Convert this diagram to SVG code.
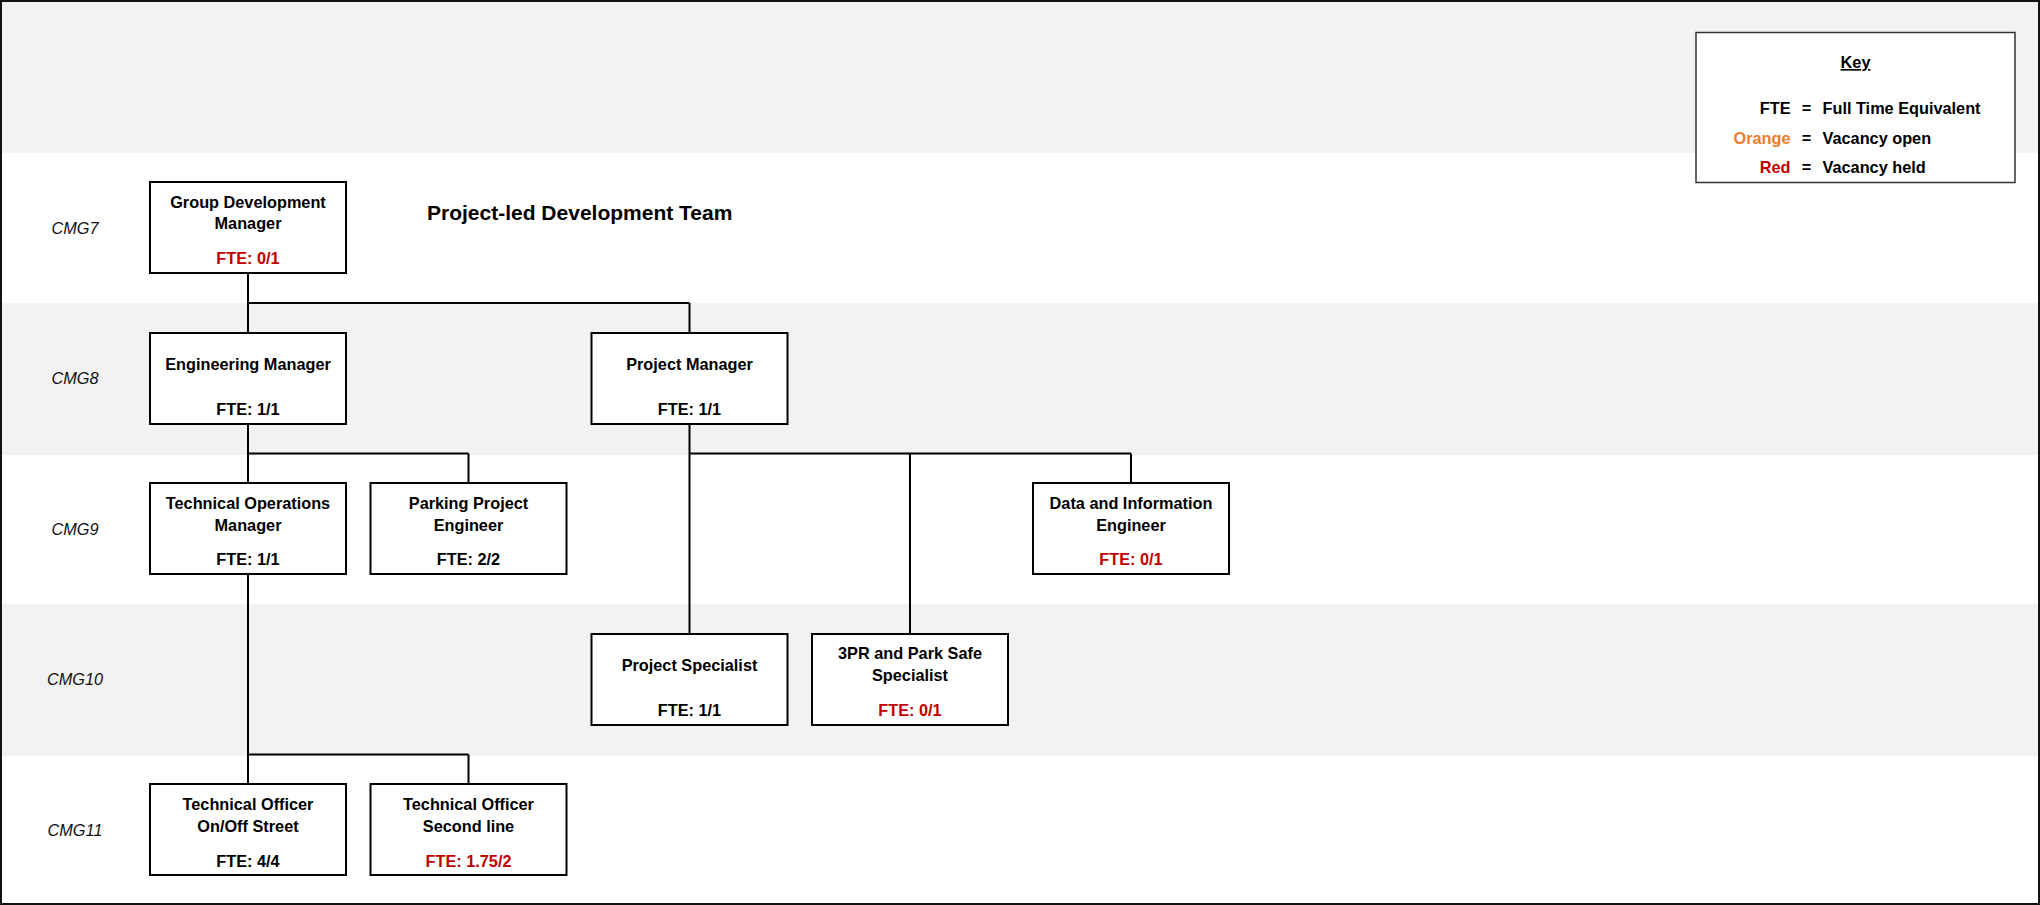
<svg xmlns="http://www.w3.org/2000/svg" width="2040" height="905" viewBox="0 0 2040 905">
<style>
.band{fill:#f2f2f2}
.box{fill:#ffffff;stroke:#000000;stroke-width:2}
.t{font-family:"Liberation Sans",Arial,sans-serif;font-size:16.3px;font-weight:bold;fill:#000;text-anchor:middle}
.lvl{font-family:"Liberation Sans",Arial,sans-serif;font-size:16.3px;font-style:italic;fill:#111;text-anchor:middle}
.title{font-family:"Liberation Sans",Arial,sans-serif;font-size:21px;font-weight:bold;fill:#000}
.conn{fill:none;stroke:#000;stroke-width:2}
.k{font-family:"Liberation Sans",Arial,sans-serif;font-size:16.3px;font-weight:bold;fill:#000}
text.red{fill:#c00000}
text.org{fill:#f07c2c}
</style>
<rect x="0" y="0" width="2040" height="905" fill="#ffffff"/>
<g id="bands">
<rect class="band" x="0" y="0" width="2040" height="153"/>
<rect class="band" x="0" y="303" width="2040" height="152"/>
<rect class="band" x="0" y="604" width="2040" height="152"/>
</g>
<g id="levels">
<text class="lvl" x="75" y="234">CMG7</text>
<text class="lvl" x="75" y="384">CMG8</text>
<text class="lvl" x="75" y="535">CMG9</text>
<text class="lvl" x="75" y="685">CMG10</text>
<text class="lvl" x="75" y="836">CMG11</text>
</g>
<text class="title" x="427" y="220">Project-led Development Team</text>
<g id="connectors">
<path class="conn" d="M248 273 V303 M248 303 H689.5 M248 303 V333 M689.5 303 V333"/>
<path class="conn" d="M248 424 V453.5 M248 453.5 H468.5 M248 453.5 V483 M468.5 453.5 V483"/>
<path class="conn" d="M689.5 424 V453.5 M689.5 453.5 H1131 M689.5 453.5 V634 M910 453.5 V634 M1131 453.5 V483"/>
<path class="conn" d="M248 574 V754.5 M248 754.5 H468.5 M248 754.5 V784 M468.5 754.5 V784"/>
</g>
<g id="group-development-manager">
<rect class="box" x="150" y="182" width="196" height="91"/>
<text class="t" x="248" y="208">Group Development</text>
<text class="t" x="248" y="229">Manager</text>
<text class="t red" x="248" y="264">FTE: 0/1</text>
</g>
<g id="engineering-manager">
<rect class="box" x="150" y="333" width="196" height="91"/>
<text class="t" x="248" y="370">Engineering Manager</text>
<text class="t" x="248" y="415">FTE: 1/1</text>
</g>
<g id="project-manager">
<rect class="box" x="591.5" y="333" width="196" height="91"/>
<text class="t" x="689.5" y="370">Project Manager</text>
<text class="t" x="689.5" y="415">FTE: 1/1</text>
</g>
<g id="technical-operations-manager">
<rect class="box" x="150" y="483" width="196" height="91"/>
<text class="t" x="248" y="509">Technical Operations</text>
<text class="t" x="248" y="530.5">Manager</text>
<text class="t" x="248" y="565">FTE: 1/1</text>
</g>
<g id="parking-project-engineer">
<rect class="box" x="370.5" y="483" width="196" height="91"/>
<text class="t" x="468.5" y="509">Parking Project</text>
<text class="t" x="468.5" y="530.5">Engineer</text>
<text class="t" x="468.5" y="565">FTE: 2/2</text>
</g>
<g id="data-information-engineer">
<rect class="box" x="1033" y="483" width="196" height="91"/>
<text class="t" x="1131" y="509">Data and Information</text>
<text class="t" x="1131" y="530.5">Engineer</text>
<text class="t red" x="1131" y="565">FTE: 0/1</text>
</g>
<g id="project-specialist">
<rect class="box" x="591.5" y="634" width="196" height="91"/>
<text class="t" x="689.5" y="671">Project Specialist</text>
<text class="t" x="689.5" y="716">FTE: 1/1</text>
</g>
<g id="3pr-park-safe-specialist">
<rect class="box" x="812" y="634" width="196" height="91"/>
<text class="t" x="910" y="659">3PR and Park Safe</text>
<text class="t" x="910" y="681">Specialist</text>
<text class="t red" x="910" y="716">FTE: 0/1</text>
</g>
<g id="technical-officer-street">
<rect class="box" x="150" y="784" width="196" height="91"/>
<text class="t" x="248" y="810">Technical Officer</text>
<text class="t" x="248" y="832">On/Off Street</text>
<text class="t" x="248" y="866.5">FTE: 4/4</text>
</g>
<g id="technical-officer-second-line">
<rect class="box" x="370.5" y="784" width="196" height="91"/>
<text class="t" x="468.5" y="810">Technical Officer</text>
<text class="t" x="468.5" y="832">Second line</text>
<text class="t red" x="468.5" y="866.5">FTE: 1.75/2</text>
</g>
<g id="key">
<rect x="1696" y="32.5" width="319" height="150" fill="#ffffff" stroke="#333" stroke-width="1.5"/>
<text class="k" x="1855.5" y="68" text-anchor="middle" text-decoration="underline">Key</text>
<text class="k" x="1790.5" y="113.5" text-anchor="end">FTE</text>
<text class="k" x="1806.5" y="113.5" text-anchor="middle">=</text>
<text class="k" x="1822.5" y="113.5">Full Time Equivalent</text>
<text class="k org" x="1790.5" y="143.5" text-anchor="end">Orange</text>
<text class="k" x="1806.5" y="143.5" text-anchor="middle">=</text>
<text class="k" x="1822.5" y="143.5">Vacancy open</text>
<text class="k red" x="1790.5" y="172.5" text-anchor="end">Red</text>
<text class="k" x="1806.5" y="172.5" text-anchor="middle">=</text>
<text class="k" x="1822.5" y="172.5">Vacancy held</text>
</g>
<rect x="1" y="1" width="2038" height="903" fill="none" stroke="#111" stroke-width="2"/>
</svg>
